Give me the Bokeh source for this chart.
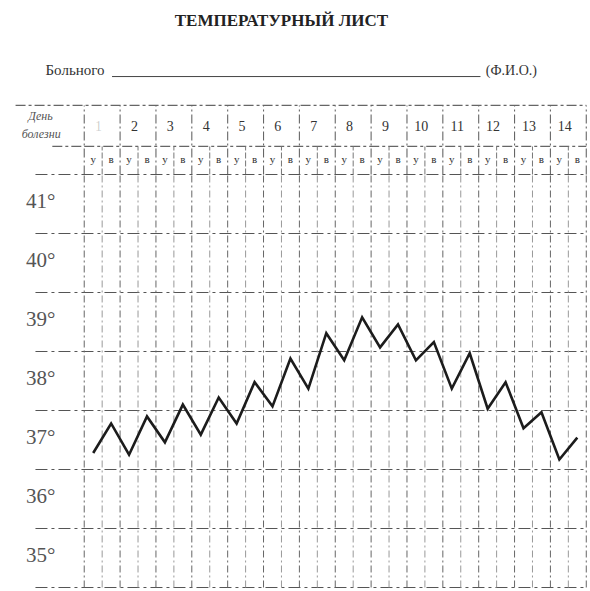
from bokeh.plotting import figure
from bokeh.models import Range1d, ColumnDataSource
from bokeh.core.properties import value
from bokeh.embed import file_html
from bokeh.resources import INLINE

# ---------------- data ----------------
title_text = "ТЕМПЕРАТУРНЫЙ ЛИСТ"
patient_label = "Больного"
fio_label = "(Ф.И.О.)"
day_header = ["День", "болезни"]
days = list(range(1, 15))
half_labels = ["у", "в"]          # утро / вечер
temp_ticks = [41, 40, 39, 38, 37, 36, 35]
temp_tick_labels = ["41°", "40°", "39°", "38°", "37°", "36°", "35°"]
# morning / evening temperatures, days 1..14
temps = [36.78, 37.28, 36.75, 37.40, 36.96, 37.60, 37.09, 37.72,
         37.28, 37.98, 37.57, 38.38, 37.87, 38.81, 38.35, 39.08,
         38.57, 38.96, 38.35, 38.66, 37.87, 38.47, 37.53, 37.98,
         37.20, 37.47, 36.67, 37.04]

# ---------------- layout (data units: x = half-day index, y = degrees) ----
n_half = len(days) * 2
GRID_BOTTOM, GRID_TOP = min(temp_ticks) - 0.5, max(temp_ticks) + 0.5
ROW2_TOP = 41.975
HEADER_TOP = 42.67
LEFT_EDGE = -3.22
SERIF = value("'Liberation Serif', 'Times New Roman', serif")

p = figure(width=590, height=591,
           x_range=Range1d(-5.17, 27.736), y_range=Range1d(34.432, 44.449),
           x_axis_type=None, y_axis_type=None,
           output_backend="svg", toolbar_location=None, min_border=0)
p.grid.visible = False
p.outline_line_color = None
p.background_fill_color = "white"
p.border_fill_color = "white"

# title and patient line
p.text(x=[10.5], y=[44.11], text=[title_text], text_font=SERIF,
       text_font_size=value("17px"), text_font_style="bold",
       text_align="center", text_baseline="middle", text_color="#222")
p.text(x=[-2.66], y=[43.27], text=[patient_label], text_font=SERIF,
       text_font_size=value("15px"), text_align="left",
       text_baseline="middle", text_color="#333")
p.segment(x0=[1.05], y0=[43.16], x1=[21.6], y1=[43.16],
          line_color="#444", line_width=1)
p.text(x=[21.9], y=[43.27], text=[fio_label], text_font=SERIF,
       text_font_size=value("14px"), text_align="left",
       text_baseline="middle", text_color="#333")

# header table lines
p.segment(x0=[-4.33, -0.5, -2.28], y0=[HEADER_TOP, ROW2_TOP, ROW2_TOP],
          x1=[n_half - 0.5, n_half - 0.5, -0.6], y1=[HEADER_TOP, ROW2_TOP, ROW2_TOP],
          line_color="#666", line_width=1.2, line_dash="10 3 3 3")
day_bounds = [2 * k - 0.5 for k in range(len(days) + 1)]
p.segment(x0=day_bounds, y0=[GRID_TOP] * len(day_bounds),
          x1=day_bounds, y1=[HEADER_TOP] * len(day_bounds),
          line_color="#666", line_width=1.1, line_dash="9 3 2 3")
half_bounds = [2 * k + 0.5 for k in range(len(days))]
p.segment(x0=half_bounds, y0=[GRID_TOP] * len(half_bounds),
          x1=half_bounds, y1=[ROW2_TOP] * len(half_bounds),
          line_color="#777", line_width=1, line_dash="6 2")

# header texts
p.text(x=[-2.94, -2.9], y=[42.49, 42.19], text=day_header, text_font=SERIF,
       text_font_size=value("12px"), text_font_style="italic",
       text_align="center", text_baseline="middle", text_color="#555")
day_x = [2 * (d - 1) + 0.3 for d in days]
day_alpha = [0.25] + [1.0] * (len(days) - 1)
p.text(x=day_x, y=[42.33] * len(days), text=[str(d) for d in days],
       text_font=SERIF, text_font_size=value("14px"), text_alpha=day_alpha,
       text_align="center", text_baseline="middle", text_color="#333")
hx = list(range(n_half))
p.text(x=hx, y=[41.77] * n_half, text=[half_labels[i % 2] for i in hx],
       text_font=SERIF, text_font_size=value("11px"),
       text_align="center", text_baseline="middle", text_color="#333")

# body grid
h_levels = [t + 0.5 for t in range(min(temp_ticks) - 1, max(temp_ticks) + 1)]
p.segment(x0=[LEFT_EDGE] * len(h_levels), y0=h_levels,
          x1=[n_half - 0.5] * len(h_levels), y1=h_levels,
          line_color="#555", line_width=1.2, line_dash="12 4 3 4")
v_all = [i - 0.5 for i in range(n_half + 1)]
v_col = ["#666" if i % 2 == 0 else "#999" for i in range(n_half + 1)]
p.segment(x0=v_all, y0=[GRID_BOTTOM] * len(v_all), x1=v_all,
          y1=[GRID_TOP] * len(v_all), line_color=v_col, line_width=1,
          line_dash="7 3 2 3")

# temperature labels
p.text(x=[-3.75] * len(temp_ticks), y=[t + 0.05 for t in temp_ticks],
       text=temp_tick_labels,
       text_font=SERIF, text_font_size=value("21px"),
       text_align="left", text_baseline="middle", text_color="#555")

# temperature curve
src = ColumnDataSource(dict(x=hx, y=temps))
p.line(x="x", y="y", source=src, line_color="#1c1c1c", line_width=2.6,
       line_join="miter")

open("out.html", "w").write(file_html(p, INLINE))
